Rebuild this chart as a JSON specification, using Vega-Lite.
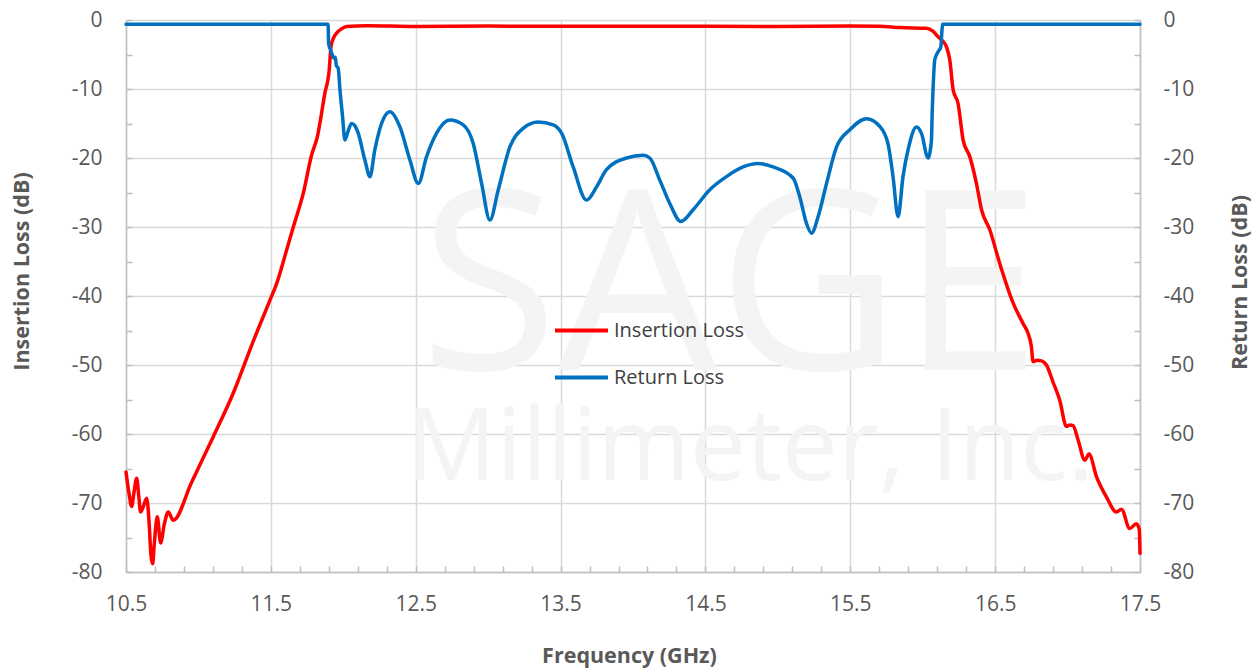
{
  "$schema": "https://vega.github.io/schema/vega-lite/v6.json",
  "width": 1014,
  "height": 552,
  "autosize": {"type": "none"},
  "padding": {"left": 126, "top": 20, "right": 120, "bottom": 97},
  "background": "white",
  "config": {
    "view": {"stroke": null},
    "font": "Open Sans",
    "axis": {
      "labelFont": "Open Sans",
      "labelFontSize": 21,
      "labelColor": "#595959",
      "titleFont": "Open Sans",
      "titleFontSize": 21.5,
      "titleFontWeight": "bold",
      "titleColor": "#595959",
      "domainColor": "#BFBFBF",
      "domainWidth": 1.5,
      "tickColor": "#BFBFBF",
      "tickWidth": 1.5,
      "gridColor": "#D9D9D9",
      "gridWidth": 1.5
    }
  },
  "datasets": {
    "il": [
      {"f": 10.5, "v": -65.5, "series": "Insertion Loss"},
      {"f": 10.52, "v": -68.5, "series": "Insertion Loss"},
      {"f": 10.539, "v": -70.5, "series": "Insertion Loss"},
      {"f": 10.555, "v": -68.5, "series": "Insertion Loss"},
      {"f": 10.574, "v": -66.4, "series": "Insertion Loss"},
      {"f": 10.588, "v": -69.0, "series": "Insertion Loss"},
      {"f": 10.601, "v": -71.3, "series": "Insertion Loss"},
      {"f": 10.62, "v": -70.5, "series": "Insertion Loss"},
      {"f": 10.643, "v": -69.3, "series": "Insertion Loss"},
      {"f": 10.66, "v": -73.0, "series": "Insertion Loss"},
      {"f": 10.672, "v": -77.5, "series": "Insertion Loss"},
      {"f": 10.684, "v": -78.8, "series": "Insertion Loss"},
      {"f": 10.695, "v": -76.0, "series": "Insertion Loss"},
      {"f": 10.716, "v": -72.0, "series": "Insertion Loss"},
      {"f": 10.739, "v": -75.8, "series": "Insertion Loss"},
      {"f": 10.765, "v": -73.0, "series": "Insertion Loss"},
      {"f": 10.792, "v": -71.3, "series": "Insertion Loss"},
      {"f": 10.826, "v": -72.5, "series": "Insertion Loss"},
      {"f": 10.953, "v": -67.0, "series": "Insertion Loss"},
      {"f": 11.1, "v": -60.5, "series": "Insertion Loss"},
      {"f": 11.24, "v": -54.1, "series": "Insertion Loss"},
      {"f": 11.37, "v": -47.0, "series": "Insertion Loss"},
      {"f": 11.494, "v": -40.6, "series": "Insertion Loss"},
      {"f": 11.54, "v": -38.2, "series": "Insertion Loss"},
      {"f": 11.6, "v": -34.0, "series": "Insertion Loss"},
      {"f": 11.655, "v": -30.0, "series": "Insertion Loss"},
      {"f": 11.724, "v": -25.1, "series": "Insertion Loss"},
      {"f": 11.782, "v": -19.5, "series": "Insertion Loss"},
      {"f": 11.82, "v": -17.0, "series": "Insertion Loss"},
      {"f": 11.873, "v": -10.6, "series": "Insertion Loss"},
      {"f": 11.903, "v": -7.2, "series": "Insertion Loss"},
      {"f": 11.915, "v": -3.9, "series": "Insertion Loss"},
      {"f": 11.935, "v": -2.5, "series": "Insertion Loss"},
      {"f": 11.954, "v": -1.9, "series": "Insertion Loss"},
      {"f": 11.99, "v": -1.25, "series": "Insertion Loss"},
      {"f": 12.023, "v": -0.95, "series": "Insertion Loss"},
      {"f": 12.16, "v": -0.82, "series": "Insertion Loss"},
      {"f": 12.5, "v": -0.95, "series": "Insertion Loss"},
      {"f": 13.0, "v": -0.88, "series": "Insertion Loss"},
      {"f": 13.5, "v": -0.92, "series": "Insertion Loss"},
      {"f": 14.0, "v": -0.9, "series": "Insertion Loss"},
      {"f": 14.5, "v": -0.92, "series": "Insertion Loss"},
      {"f": 15.0, "v": -0.93, "series": "Insertion Loss"},
      {"f": 15.497, "v": -0.88, "series": "Insertion Loss"},
      {"f": 15.7, "v": -0.9, "series": "Insertion Loss"},
      {"f": 15.84, "v": -1.1, "series": "Insertion Loss"},
      {"f": 16.026, "v": -1.2, "series": "Insertion Loss"},
      {"f": 16.07, "v": -1.6, "series": "Insertion Loss"},
      {"f": 16.105, "v": -2.4, "series": "Insertion Loss"},
      {"f": 16.135, "v": -3.0, "series": "Insertion Loss"},
      {"f": 16.164, "v": -3.9, "series": "Insertion Loss"},
      {"f": 16.187, "v": -5.8, "series": "Insertion Loss"},
      {"f": 16.21, "v": -10.1, "series": "Insertion Loss"},
      {"f": 16.244, "v": -12.1, "series": "Insertion Loss"},
      {"f": 16.279, "v": -17.4, "series": "Insertion Loss"},
      {"f": 16.325, "v": -19.8, "series": "Insertion Loss"},
      {"f": 16.371, "v": -23.7, "series": "Insertion Loss"},
      {"f": 16.406, "v": -27.5, "series": "Insertion Loss"},
      {"f": 16.463, "v": -30.4, "series": "Insertion Loss"},
      {"f": 16.532, "v": -35.3, "series": "Insertion Loss"},
      {"f": 16.624, "v": -41.0, "series": "Insertion Loss"},
      {"f": 16.693, "v": -44.0, "series": "Insertion Loss"},
      {"f": 16.727, "v": -45.4, "series": "Insertion Loss"},
      {"f": 16.75, "v": -47.3, "series": "Insertion Loss"},
      {"f": 16.762, "v": -49.5, "series": "Insertion Loss"},
      {"f": 16.79, "v": -49.3, "series": "Insertion Loss"},
      {"f": 16.82, "v": -49.4, "series": "Insertion Loss"},
      {"f": 16.854, "v": -50.0, "series": "Insertion Loss"},
      {"f": 16.9, "v": -52.5, "series": "Insertion Loss"},
      {"f": 16.946, "v": -55.1, "series": "Insertion Loss"},
      {"f": 16.992, "v": -58.9, "series": "Insertion Loss"},
      {"f": 17.015, "v": -58.7, "series": "Insertion Loss"},
      {"f": 17.038, "v": -58.8, "series": "Insertion Loss"},
      {"f": 17.073, "v": -60.9, "series": "Insertion Loss"},
      {"f": 17.119, "v": -63.8, "series": "Insertion Loss"},
      {"f": 17.148, "v": -62.9, "series": "Insertion Loss"},
      {"f": 17.2, "v": -66.2, "series": "Insertion Loss"},
      {"f": 17.268, "v": -69.1, "series": "Insertion Loss"},
      {"f": 17.337, "v": -71.3, "series": "Insertion Loss"},
      {"f": 17.372, "v": -70.9, "series": "Insertion Loss"},
      {"f": 17.429, "v": -73.7, "series": "Insertion Loss"},
      {"f": 17.475, "v": -73.0, "series": "Insertion Loss"},
      {"f": 17.495, "v": -73.8, "series": "Insertion Loss"},
      {"f": 17.5, "v": -77.3, "series": "Insertion Loss"}
    ],
    "rl": [
      {"f": 10.5, "v": -0.6, "series": "Return Loss"},
      {"f": 11.895, "v": -0.6, "series": "Return Loss"},
      {"f": 11.899, "v": -3.4, "series": "Return Loss"},
      {"f": 11.908, "v": -4.1, "series": "Return Loss"},
      {"f": 11.92, "v": -4.8, "series": "Return Loss"},
      {"f": 11.935, "v": -5.5, "series": "Return Loss"},
      {"f": 11.945, "v": -5.4, "series": "Return Loss"},
      {"f": 11.952, "v": -6.6, "series": "Return Loss"},
      {"f": 11.965, "v": -7.0, "series": "Return Loss"},
      {"f": 11.977, "v": -10.1, "series": "Return Loss"},
      {"f": 11.995, "v": -14.0, "series": "Return Loss"},
      {"f": 12.011, "v": -17.4, "series": "Return Loss"},
      {"f": 12.035, "v": -16.0, "series": "Return Loss"},
      {"f": 12.057, "v": -15.0, "series": "Return Loss"},
      {"f": 12.08, "v": -15.3, "series": "Return Loss"},
      {"f": 12.103, "v": -16.4, "series": "Return Loss"},
      {"f": 12.149, "v": -20.3, "series": "Return Loss"},
      {"f": 12.184, "v": -22.7, "series": "Return Loss"},
      {"f": 12.218, "v": -18.8, "series": "Return Loss"},
      {"f": 12.264, "v": -15.0, "series": "Return Loss"},
      {"f": 12.322, "v": -13.3, "series": "Return Loss"},
      {"f": 12.391, "v": -15.5, "series": "Return Loss"},
      {"f": 12.46, "v": -20.3, "series": "Return Loss"},
      {"f": 12.518, "v": -23.7, "series": "Return Loss"},
      {"f": 12.575, "v": -19.8, "series": "Return Loss"},
      {"f": 12.644, "v": -16.4, "series": "Return Loss"},
      {"f": 12.736, "v": -14.5, "series": "Return Loss"},
      {"f": 12.828, "v": -15.2, "series": "Return Loss"},
      {"f": 12.897, "v": -17.9, "series": "Return Loss"},
      {"f": 12.955, "v": -23.7, "series": "Return Loss"},
      {"f": 13.012, "v": -29.0, "series": "Return Loss"},
      {"f": 13.07, "v": -24.6, "series": "Return Loss"},
      {"f": 13.15, "v": -18.4, "series": "Return Loss"},
      {"f": 13.242, "v": -15.7, "series": "Return Loss"},
      {"f": 13.345, "v": -14.8, "series": "Return Loss"},
      {"f": 13.449, "v": -15.2, "series": "Return Loss"},
      {"f": 13.507, "v": -16.4, "series": "Return Loss"},
      {"f": 13.587, "v": -21.3, "series": "Return Loss"},
      {"f": 13.679, "v": -26.1, "series": "Return Loss"},
      {"f": 13.748, "v": -24.2, "series": "Return Loss"},
      {"f": 13.817, "v": -21.7, "series": "Return Loss"},
      {"f": 13.955, "v": -20.0, "series": "Return Loss"},
      {"f": 14.07, "v": -19.6, "series": "Return Loss"},
      {"f": 14.116, "v": -20.0, "series": "Return Loss"},
      {"f": 14.185, "v": -23.2, "series": "Return Loss"},
      {"f": 14.254, "v": -26.6, "series": "Return Loss"},
      {"f": 14.33, "v": -29.2, "series": "Return Loss"},
      {"f": 14.415, "v": -27.5, "series": "Return Loss"},
      {"f": 14.53, "v": -24.6, "series": "Return Loss"},
      {"f": 14.645, "v": -22.7, "series": "Return Loss"},
      {"f": 14.76, "v": -21.3, "series": "Return Loss"},
      {"f": 14.864, "v": -20.8, "series": "Return Loss"},
      {"f": 14.967, "v": -21.3, "series": "Return Loss"},
      {"f": 15.105, "v": -22.9, "series": "Return Loss"},
      {"f": 15.151, "v": -25.6, "series": "Return Loss"},
      {"f": 15.198, "v": -29.5, "series": "Return Loss"},
      {"f": 15.232, "v": -30.9, "series": "Return Loss"},
      {"f": 15.278, "v": -28.5, "series": "Return Loss"},
      {"f": 15.336, "v": -23.7, "series": "Return Loss"},
      {"f": 15.405, "v": -18.4, "series": "Return Loss"},
      {"f": 15.497, "v": -15.9, "series": "Return Loss"},
      {"f": 15.612, "v": -14.3, "series": "Return Loss"},
      {"f": 15.703, "v": -15.4, "series": "Return Loss"},
      {"f": 15.76, "v": -17.9, "series": "Return Loss"},
      {"f": 15.795, "v": -22.7, "series": "Return Loss"},
      {"f": 15.83, "v": -28.5, "series": "Return Loss"},
      {"f": 15.864, "v": -22.7, "series": "Return Loss"},
      {"f": 15.899, "v": -18.8, "series": "Return Loss"},
      {"f": 15.957, "v": -15.5, "series": "Return Loss"},
      {"f": 15.991, "v": -16.4, "series": "Return Loss"},
      {"f": 16.037, "v": -20.0, "series": "Return Loss"},
      {"f": 16.06, "v": -17.5, "series": "Return Loss"},
      {"f": 16.066, "v": -13.0, "series": "Return Loss"},
      {"f": 16.072, "v": -9.7, "series": "Return Loss"},
      {"f": 16.083, "v": -5.8, "series": "Return Loss"},
      {"f": 16.106, "v": -4.6, "series": "Return Loss"},
      {"f": 16.125, "v": -3.9, "series": "Return Loss"},
      {"f": 16.133, "v": -1.5, "series": "Return Loss"},
      {"f": 16.137, "v": -0.62, "series": "Return Loss"},
      {"f": 17.5, "v": -0.6, "series": "Return Loss"}
    ],
    "wm1": [{"f": 14.67, "v": -50.7, "label": "SAGE"}],
    "wm2": [{"f": 14.81, "v": -66.7, "label": "Millimeter, Inc."}]
  },
  "encoding": {
    "x": {
      "field": "f",
      "type": "quantitative",
      "scale": {"domain": [10.5, 17.5], "nice": false, "zero": false},
      "axis": {
        "title": "Frequency (GHz)",
        "titleX": 503,
        "titleY": 84,
        "titleBaseline": "middle",
        "titleAlign": "center",
        "values": [10.5, 10.7, 10.9, 11.1, 11.3, 11.5, 11.7, 11.9, 12.1, 12.3, 12.5, 12.7, 12.9, 13.1, 13.3, 13.5, 13.7, 13.9, 14.1, 14.3, 14.5, 14.7, 14.9, 15.1, 15.3, 15.5, 15.7, 15.9, 16.1, 16.3, 16.5, 16.7, 16.9, 17.1, 17.3, 17.5],
        "labelExpr": "round(datum.value*10)%10==5 ? format(datum.value,'.1f') : ''",
        "grid": true,
        "gridOpacity": {"condition": {"test": "round(datum.value*10)%10==5", "value": 1}, "value": 0},
        "tickSize": -6,
        "labelPadding": 27,
        "labelFlush": false,
        "labelOverlap": false
      }
    }
  },
  "layer": [
    {
      "data": {"name": "wm1"},
      "mark": {"type": "text", "fontSize": 252, "color": "#F4F4F4", "align": "center", "baseline": "alphabetic", "font": "Open Sans"},
      "encoding": {
        "y": {"field": "v", "type": "quantitative", "scale": {"domain": [-80, 0], "nice": false}, "axis": null},
        "text": {"field": "label"}
      }
    },
    {
      "data": {"name": "wm2"},
      "mark": {"type": "text", "fontSize": 100, "color": "#F4F4F4", "align": "center", "baseline": "alphabetic", "font": "Open Sans"},
      "encoding": {
        "y": {"field": "v", "type": "quantitative", "scale": {"domain": [-80, 0], "nice": false}, "axis": null},
        "text": {"field": "label"}
      }
    },
    {
      "data": {"name": "il"},
      "mark": {"type": "line", "strokeWidth": 3.5, "interpolate": "monotone", "strokeJoin": "round", "strokeCap": "round"},
      "encoding": {
        "y": {
          "field": "v",
          "type": "quantitative",
          "scale": {"domain": [-80, 0], "nice": false},
          "axis": {
            "orient": "left",
            "title": "Insertion Loss (dB)",
            "titleAngle": -90,
            "titleX": -104,
            "titleY": 251,
            "titleBaseline": "middle",
            "titleAlign": "center",
            "values": [-80, -75, -70, -65, -60, -55, -50, -45, -40, -35, -30, -25, -20, -15, -10, -5, 0],
            "labelExpr": "datum.value % 10 == 0 ? toString(datum.value) : ''",
            "grid": true,
            "gridOpacity": {"condition": {"test": "datum.value % 10 == 0", "value": 1}, "value": 0},
            "tickSize": -6,
            "labelPadding": 30,
            "labelOverlap": false,
            "labelFlush": false
          }
        },
        "color": {
          "field": "series",
          "type": "nominal",
          "scale": {"domain": ["Insertion Loss", "Return Loss"], "range": ["#FF0000", "#0070C0"]},
          "legend": {
            "orient": "none",
            "legendX": 427,
            "legendY": 282,
            "title": null,
            "symbolType": "stroke",
            "symbolSize": 2809,
            "symbolStrokeWidth": 4,
            "labelFont": "Open Sans",
            "labelFontSize": 20,
            "labelColor": "#404040",
            "labelOffset": 4,
            "rowPadding": 8,
            "padding": 0
          }
        }
      }
    },
    {
      "data": {"name": "rl"},
      "mark": {"type": "line", "strokeWidth": 3.5, "interpolate": "monotone", "strokeJoin": "round", "strokeCap": "round"},
      "encoding": {
        "y": {
          "field": "v",
          "type": "quantitative",
          "scale": {"domain": [-80, 0], "nice": false},
          "axis": {
            "orient": "right",
            "title": "Return Loss (dB)",
            "titleAngle": -90,
            "titleX": 100,
            "titleY": 262,
            "titleBaseline": "middle",
            "titleAlign": "center",
            "values": [-80, -75, -70, -65, -60, -55, -50, -45, -40, -35, -30, -25, -20, -15, -10, -5, 0],
            "labelExpr": "datum.value % 10 == 0 ? toString(datum.value) : ''",
            "grid": false,
            "tickSize": -6,
            "labelPadding": 29,
            "labelOverlap": false,
            "labelFlush": false
          }
        },
        "color": {
          "field": "series",
          "type": "nominal",
          "scale": {"domain": ["Insertion Loss", "Return Loss"], "range": ["#FF0000", "#0070C0"]}
        }
      }
    }
  ],
  "resolve": {"scale": {"y": "independent"}}
}
